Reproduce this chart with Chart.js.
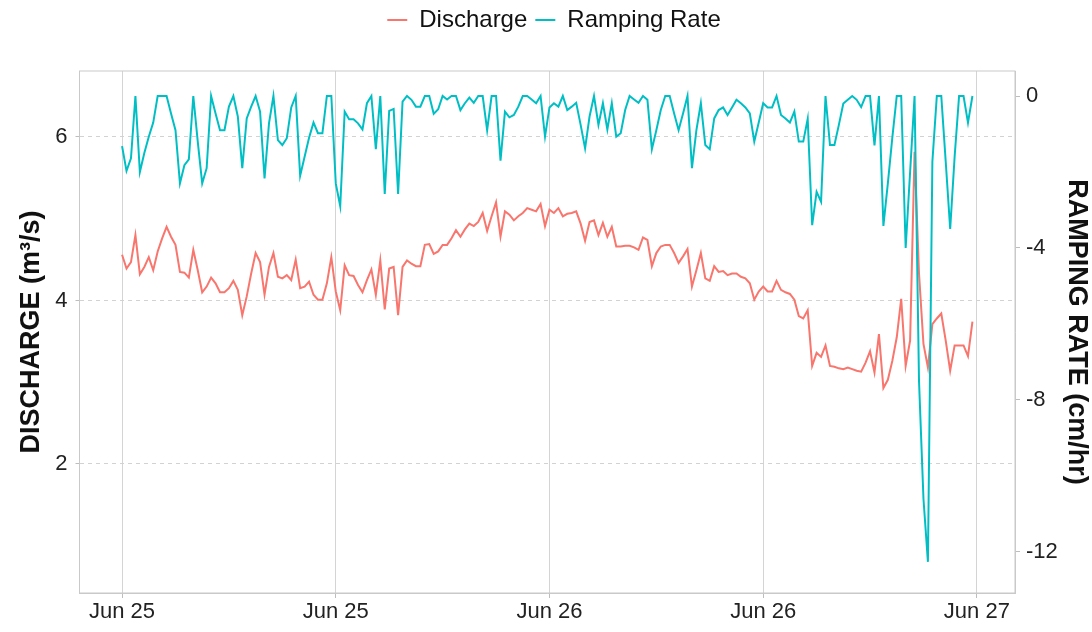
<!DOCTYPE html>
<html>
<head>
<meta charset="utf-8">
<title>Discharge and ramping rate</title>
<script src="https://cdn.jsdelivr.net/npm/chart.js@4.4.1/dist/chart.umd.min.js"></script>
<style>
  html, body { margin: 0; padding: 0; background: #fff; }
  #wrap { width: 1092px; height: 632px; position: relative; }
</style>
</head>
<body>
<div id="wrap"><canvas id="chart"></canvas></div>
<script>
// ---------- data (15-minute readings, Jun 25 00:00 -> Jun 26 23:45) ----------
const STEP_H = 0.25; // hours between readings

const discharge = [
  4.56, 4.39, 4.47, 4.80, 4.32, 4.41, 4.53, 4.37, 4.60, 4.76, 4.90, 4.78,
  4.68, 4.35, 4.34, 4.28, 4.62, 4.37, 4.10, 4.17, 4.28, 4.21, 4.10, 4.10,
  4.15, 4.24, 4.13, 3.82, 4.05, 4.33, 4.58, 4.47, 4.07, 4.41, 4.58, 4.29,
  4.27, 4.31, 4.25, 4.50, 4.15, 4.17, 4.23, 4.07, 4.01, 4.01, 4.21, 4.53,
  4.11, 3.88, 4.43, 4.31, 4.30, 4.19, 4.10, 4.25, 4.38, 4.07, 4.49, 3.89,
  4.39, 4.41, 3.82, 4.41, 4.49, 4.45, 4.42, 4.42, 4.68, 4.69, 4.57, 4.60,
  4.68, 4.68, 4.76, 4.86, 4.78, 4.87, 4.94, 4.91, 4.96, 5.07, 4.85, 5.03,
  5.20, 4.78, 5.09, 5.05, 4.98, 5.03, 5.07, 5.13, 5.11, 5.09, 5.18, 4.91,
  5.11, 5.07, 5.13, 5.03, 5.06, 5.07, 5.09, 4.94, 4.73, 4.96, 4.98, 4.80,
  4.95, 4.78, 4.90, 4.66, 4.66, 4.67, 4.67, 4.65, 4.62, 4.77, 4.74, 4.42,
  4.58, 4.66, 4.68, 4.68, 4.58, 4.46, 4.54, 4.63, 4.17, 4.37, 4.58, 4.27,
  4.24, 4.42, 4.35, 4.36, 4.31, 4.33, 4.33, 4.29, 4.27, 4.21, 4.01, 4.11,
  4.17, 4.11, 4.11, 4.24, 4.13, 4.10, 4.08, 4.01, 3.81, 3.78, 3.88, 3.20,
  3.36, 3.31, 3.45, 3.20, 3.19, 3.17, 3.16, 3.18, 3.16, 3.14, 3.13, 3.24,
  3.38, 3.12, 3.59, 2.93, 3.03, 3.26, 3.55, 4.02, 3.20, 3.51, 5.82, 4.33,
  3.47, 3.18, 3.71, 3.78, 3.84, 3.51, 3.14, 3.45, 3.45, 3.45, 3.32, 3.74
];

const rampingRate = [
  -1.32, -1.97, -1.64, 0, -2.0, -1.5, -1.07, -0.7, 0, 0, 0, -0.46,
  -0.9, -2.3, -1.82, -1.67, 0, -1.2, -2.3, -1.9, 0, -0.46, -0.9, -0.9,
  -0.28, 0, -0.54, -1.9, -0.59, -0.28, 0, -0.41, -2.17, -0.72, 0, -1.16,
  -1.29, -1.11, -0.3, 0, -2.1, -1.6, -1.1, -0.7, -0.98, -0.98, 0, 0,
  -2.3, -2.9, -0.41, -0.61, -0.61, -0.72, -0.88, -0.19, 0, -1.4, 0, -2.58,
  -0.39, -0.34, -2.58, -0.15, 0, -0.1, -0.28, -0.28, 0, 0, -0.47, -0.35,
  0, -0.09, 0, 0, -0.37, -0.19, -0.04, -0.18, 0, 0, -0.9, 0,
  0, -1.7, -0.41, -0.56, -0.5, -0.28, 0, 0, -0.09, -0.19, 0, -1.07,
  -0.3, -0.19, -0.28, 0, -0.37, -0.28, -0.18, -0.76, -1.38, -0.54, 0, -0.76,
  -0.19, -0.88, -0.19, -1.07, -0.98, -0.37, 0, -0.09, -0.18, 0, -0.1, -1.4,
  -0.9, -0.37, 0, 0, -0.46, -0.9, -0.46, 0, -1.9, -0.9, -0.19, -1.29,
  -1.4, -0.59, -0.37, -0.3, -0.5, -0.3, -0.1, -0.19, -0.3, -0.46, -1.2, -0.7,
  -0.19, -0.3, -0.3, 0, -0.5, -0.59, -0.7, -0.41, -1.2, -1.2, -0.6, -3.4,
  -2.52, -2.78, 0, -1.29, -1.29, -0.76, -0.2, -0.1, 0, -0.1, -0.29, 0,
  0, -1.3, 0, -3.42, -2.3, -1.1, 0, 0, -4.0, -2.0, 0, -7.5,
  -10.6, -12.26, -1.73, 0, 0, -1.73, -3.5, -1.6, 0, 0, -0.7, 0
];

const tickHours = [0, 12, 24, 36, 48];
const tickLabels = ['Jun 25', 'Jun 25', 'Jun 26', 'Jun 26', 'Jun 27'];
const dischargeTicks = [2, 4, 6];
const rampTicks = [0, -4, -8, -12];

// ---------- look ----------
const RED = '#F8766D';
const CYAN = '#00BFC4';
const TEXT = '#222222';
Chart.defaults.font.family = '"Liberation Sans", Arial, Helvetica, sans-serif';

// panel border on all four sides (ggplot style box)
const panelBox = {
  id: 'panelBox',
  afterDraw(chart) {
    const { ctx, chartArea: a } = chart;
    ctx.save();
    ctx.strokeStyle = '#c9c9c9';
    ctx.lineWidth = 1;
    ctx.strokeRect(a.left, a.top, a.right - a.left, a.bottom - a.top);
    ctx.restore();
  }
};

// extra space under the legend
const legendGap = {
  id: 'legendGap',
  beforeInit(chart) {
    const fit = chart.legend.fit;
    chart.legend.fit = function () {
      fit.bind(chart.legend)();
      this.height += 29;
    };
  }
};

const toPoints = arr => arr.map((v, i) => ({ x: i * STEP_H, y: v }));

new Chart(document.getElementById('chart'), {
  type: 'line',
  data: {
    datasets: [
      { label: 'Discharge', data: toPoints(discharge), yAxisID: 'y',
        borderColor: RED, backgroundColor: RED, borderWidth: 2, order: 1 },
      { label: 'Ramping Rate', data: toPoints(rampingRate), yAxisID: 'y1',
        borderColor: CYAN, backgroundColor: CYAN, borderWidth: 2, order: 0 }
    ]
  },
  options: {
    responsive: true,
    maintainAspectRatio: false,
    animation: false,
    elements: { point: { radius: 0 }, line: { tension: 0 } },
    layout: { padding: { left: 18, right: 2, top: 0, bottom: 0 } },
    plugins: {
      legend: {
        position: 'top',
        labels: {
          usePointStyle: true, pointStyle: 'line', pointStyleWidth: 20,
          font: { size: 24 }, color: '#111', padding: 8,
          sort: (a, b) => a.datasetIndex - b.datasetIndex
        }
      },
      tooltip: { enabled: false }
    },
    scales: {
      x: {
        type: 'linear', min: -2.39, max: 50.14,
        afterBuildTicks: s => { s.ticks = tickHours.map(v => ({ value: v })); },
        afterFit: s => { s.height = 39; },
        ticks: { callback: (v, i) => tickLabels[i], font: { size: 22 }, color: TEXT,
                 padding: 1, maxRotation: 0, autoSkip: false },
        grid: { color: '#d4d4d4', tickLength: 5, tickColor: '#bdbdbd' },
        border: { color: '#c9c9c9' }
      },
      y: {
        position: 'left', min: 0.422, max: 6.807,
        afterBuildTicks: s => { s.ticks = dischargeTicks.map(v => ({ value: v })); },
        afterFit: s => { s.width = 61.5; },
        ticks: { font: { size: 22 }, color: TEXT, padding: 8 },
        grid: { color: '#d2d2d2', tickLength: 4, tickColor: '#bdbdbd', tickBorderDash: [] },
        border: { color: '#c9c9c9', dash: [4, 4] },
        title: { display: true, text: 'DISCHARGE (m³/s)', color: '#111',
                 font: { size: 27, weight: 'bold', lineHeight: 1 }, padding: { top: 0, bottom: 0 } }
      },
      y1: {
        position: 'right', min: -13.08, max: 0.658,
        afterBuildTicks: s => { s.ticks = rampTicks.map(v => ({ value: v })); },
        afterFit: s => { s.width = 75; },
        ticks: { font: { size: 22 }, color: TEXT, padding: 6 },
        grid: { drawOnChartArea: false, tickLength: 5, tickColor: '#bdbdbd' },
        border: { color: '#c9c9c9' },
        title: { display: true, text: 'RAMPING RATE (cm/hr)', color: '#111',
                 font: { size: 27, weight: 'bold', lineHeight: 1 }, padding: { top: 0, bottom: 0 } }
      }
    }
  },
  plugins: [panelBox, legendGap]
});
</script>
</body>
</html>
